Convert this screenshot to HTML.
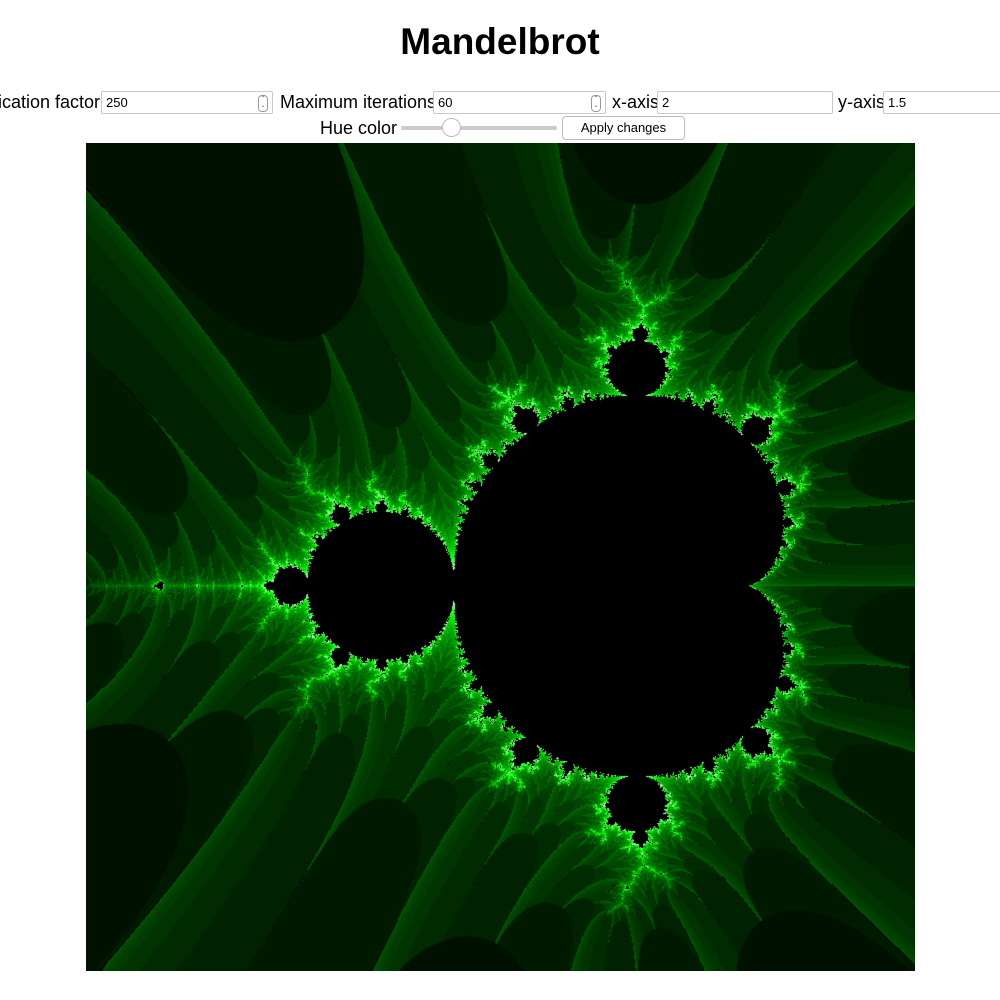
<!DOCTYPE html>
<html>
<head>
<meta charset="utf-8">
<style>
  html,body{margin:0;padding:0;background:#fff;width:1000px;height:1000px;overflow:hidden;position:relative;font-family:"Liberation Sans",sans-serif;}
  .abs{position:absolute;}
  h1{position:absolute;left:0;width:1000px;top:20px;margin:0;text-align:center;font-size:37px;font-weight:bold;line-height:44px;color:#000;}
  .lbl{font-size:18px;line-height:22px;color:#000;white-space:nowrap;}
  .inp{box-sizing:border-box;height:23px;border:1px solid #c8c8c8;border-radius:2px;background:#fff;font-size:13px;line-height:21px;padding-left:4px;color:#000;}
  .spin{position:absolute;right:4px;top:3px;width:8px;height:15px;border:1px solid #999;border-radius:4px;font-size:6px;line-height:7px;text-align:center;color:#555;}
  .btn{box-sizing:border-box;border:1px solid #bbb;border-radius:4px;background:#fff;font-size:13px;text-align:center;line-height:21px;}
  #fractal{position:absolute;left:86px;top:143px;width:829px;height:828px;background:#000;}
</style>
</head>
<body>
<h1>Mandelbrot</h1>

<div class="abs lbl" style="right:900px;top:91px;">Magnification factor</div>
<div class="abs inp" style="left:101px;top:91px;width:172px;">250<div class="spin">⌃<br>⌄</div></div>

<div class="abs lbl" style="left:280px;top:91px;">Maximum iterations</div>
<div class="abs inp" style="left:433px;top:91px;width:173px;">60<div class="spin">⌃<br>⌄</div></div>

<div class="abs lbl" style="left:612px;top:91px;">x-axis</div>
<div class="abs inp" style="left:657px;top:91px;width:176px;">2</div>

<div class="abs lbl" style="left:838px;top:91px;">y-axis</div>
<div class="abs inp" style="left:883px;top:91px;width:117px;border-right:none;border-radius:2px 0 0 2px;">1.5</div>

<div class="abs lbl" style="left:320px;top:117px;">Hue color</div>
<div class="abs" style="left:401px;top:126px;width:156px;height:4px;background:#ccc;border-radius:2px;"></div>
<div class="abs" style="left:442px;top:118px;width:19px;height:19px;border-radius:50%;background:#fff;border:1px solid #bbb;box-sizing:border-box;"></div>
<div class="abs btn" style="left:562px;top:116px;width:123px;height:24px;">Apply changes</div>

<canvas id="fractal" width="829" height="828"></canvas>

<script>
const maxIterations = 60;
const hue = 120;
const xLeft = -2.01;
const yStart = -1.515;
const pxPerUnit = 292;

const cv = document.getElementById('fractal');
const ctx = cv.getContext('2d');
const W = cv.width, H = cv.height;
const img = ctx.createImageData(W, H);

function hslToRgb(h, s, l){
  h/=360;
  const q = l<0.5 ? l*(1+s) : l+s-l*s, p = 2*l-q;
  function f(t){ if(t<0)t+=1; if(t>1)t-=1;
    if(t<1/6) return p+(q-p)*6*t; if(t<1/2) return q; if(t<2/3) return p+(q-p)*(2/3-t)*6; return p; }
  return [f(h+1/3)*255, f(h)*255, f(h-1/3)*255];
}

function belongs(cr, ci){
  let zr=0, zi=0;
  for(let i=0;i<maxIterations;i++){
    const tr = zr*zr - zi*zi + cr;
    const ti = 2*zr*zi + ci;
    zr = tr; zi = ti;
    if(zr*zi > 5) return i/maxIterations;
  }
  return 0;
}

for(let py=0;py<H;py++){
  const ci = yStart + py/pxPerUnit;
  for(let px=0;px<W;px++){
    const cr = xLeft + px/pxPerUnit;
    const v = belongs(cr, ci);
    const k = (py*W+px)*4;
    if(v===0){ img.data[k]=0;img.data[k+1]=0;img.data[k+2]=0; }
    else { const c = hslToRgb(hue, 1, v); img.data[k]=c[0];img.data[k+1]=c[1];img.data[k+2]=c[2]; }
    img.data[k+3]=255;
  }
}
ctx.putImageData(img,0,0);
</script>
</body>
</html>
